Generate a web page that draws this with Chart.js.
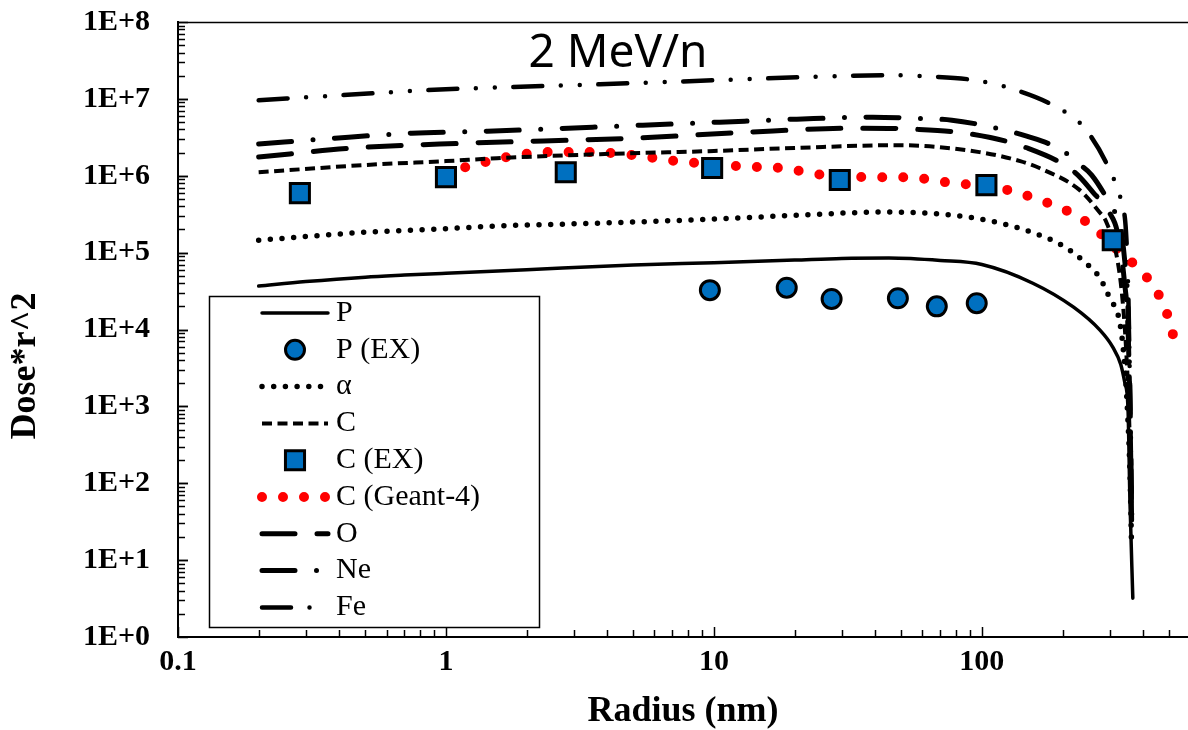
<!DOCTYPE html>
<html>
<head>
<meta charset="utf-8">
<title>2 MeV/n</title>
<script src="https://cdn.jsdelivr.net/npm/chart.js@4.4.1/dist/chart.umd.min.js"></script>
<style>
  body { margin: 0; background: #fff; }
  #wrap { width: 1188px; height: 730px; }
</style>
</head>
<body>
<div id="wrap"><canvas id="doseChart" width="1188" height="730"></canvas></div>
<script>
// Values (radius in nm, dose*r^2)
const pRadius = [0.2, 0.3, 0.5, 0.7, 1, 2, 5, 10, 20, 30, 45, 70, 100, 155, 220, 276, 308, 330, 342, 351, 357, 366];
const pDose = [3.67e4, 4.2e4, 4.8e4, 5.1e4, 5.4e4, 6.0e4, 6.9e4, 7.4e4, 8.0e4, 8.4e4, 8.5e4, 7.9e4, 7.0e4, 4.0e4, 1.95e4, 9.8e3, 5.9e3, 3.5e3, 2.0e3, 980, 60, 3.2];

const pExRadius = [9.66, 18.7, 27.5, 48.6, 67.9, 95.7];
const pExDose = [3.25e4, 3.5e4, 2.5e4, 2.55e4, 2.0e4, 2.2e4];

const alphaRadius = [0.2, 0.5, 1, 1.5, 3.76, 10, 20, 43, 78, 117, 172, 207, 242, 276, 300, 327, 340, 350, 358, 362];
const alphaDose = [1.45e5, 1.84e5, 2.05e5, 2.21e5, 2.42e5, 2.73e5, 3.05e5, 3.37e5, 3.07e5, 2.42e5, 1.59e5, 1.15e5, 7.5e4, 4.66e4, 2.56e4, 1.25e4, 4.0e3, 800, 100, 15];

const cRadius = [0.2, 0.5, 1, 1.55, 3.76, 10, 20, 49, 98, 139, 164, 232, 276, 290, 319, 333, 345, 355, 362];
const cDose = [1.11e6, 1.38e6, 1.55e6, 1.69e6, 1.91e6, 2.1e6, 2.3e6, 2.5e6, 2.03e6, 1.55e6, 1.26e6, 6.5e5, 3.3e5, 2.6e5, 8.8e4, 3.0e4, 6.0e3, 600, 30];

const cExRadius = [0.285, 1.0, 2.8, 9.85, 29.5, 104, 308];
const cExDose = [5.94e5, 9.6e5, 1.11e6, 1.26e6, 8.8e5, 7.55e5, 1.45e5];

const g4Radius = [1.18, 1.69, 2.42, 3.51, 5.03, 7.28, 12.5, 18.1, 25.9, 37.6, 53.9, 78, 112, 160, 224, 260, 336, 392, 438, 478, 507, 530];
const g4Dose = [1.29e6, 1.75e6, 2.03e6, 2.03e6, 1.85e6, 1.55e6, 1.33e6, 1.25e6, 1.02e6, 9.6e5, 9.5e5, 8.0e5, 7.1e5, 5.0e5, 3.07e5, 2.15e5, 9.3e4, 5.9e4, 3.56e4, 2.07e4, 1.11e4, 5.9e3];

const oRadius = [0.2, 0.446, 1.18, 4.99, 13.3, 34.4, 56.2, 91.8, 145, 222, 260, 300, 320, 340, 352, 358, 363];
const oDose = [1.75e6, 2.29e6, 2.65e6, 3.08e6, 3.69e6, 4.16e6, 4.03e6, 3.47e6, 2.35e6, 1.11e6, 6.1e5, 3.27e5, 1.9e5, 4.4e4, 8.0e3, 500, 20];

const neRadius = [0.2, 0.385, 0.746, 1.43, 5.43, 10.5, 20.4, 39.2, 54.8, 77.3, 105, 147, 199, 226, 257, 305, 327, 340, 352, 358, 363];
const neDose = [2.58e6, 3.08e6, 3.58e6, 3.8e6, 4.55e6, 4.98e6, 5.45e6, 5.78e6, 5.6e6, 5.28e6, 4.41e6, 3.27e6, 2.15e6, 1.5e6, 1.02e6, 3.9e5, 2.34e5, 9.0e4, 1.5e4, 800, 30];

const feRadius = [0.2, 0.413, 0.857, 3.76, 10.3, 21.9, 45.4, 61.3, 94.2, 127, 190, 240, 300, 333, 345, 352, 358, 363];
const feDose = [9.6e6, 1.12e7, 1.30e7, 1.55e7, 1.75e7, 1.92e7, 2.03e7, 1.97e7, 1.75e7, 1.38e7, 7.8e6, 4.3e6, 1.18e6, 4.3e5, 1.9e5, 3.0e4, 1.0e3, 40];

const seriesNames = ['P', 'P (EX)', 'α', 'C', 'C (EX)', 'C (Geant-4)', 'O', 'Ne', 'Fe'];
const xTickValues = [0.1, 1, 10, 100];
const xTickLabels = ['0.1', '1', '10', '100'];
const yTickValues = [1, 1e1, 1e2, 1e3, 1e4, 1e5, 1e6, 1e7, 1e8];
const yTickLabels = ['1E+0', '1E+1', '1E+2', '1E+3', '1E+4', '1E+5', '1E+6', '1E+7', '1E+8'];

const BLUE = '#0070C0';
const RED = '#FF0000';
const serif = '"Liberation Serif", "Times New Roman", serif';

function pts(xs, ys) {
  return xs.map((x, i) => ({ x: x, y: ys[i] }));
}

function lineSet(label, xs, ys, color, width, dash, cap) {
  return {
    label: label,
    data: pts(xs, ys),
    showLine: true,
    borderColor: color,
    backgroundColor: color,
    borderWidth: width,
    borderDash: dash,
    borderCapStyle: cap,
    borderJoinStyle: 'round',
    cubicInterpolationMode: 'monotone',
    pointRadius: 0,
    pointHoverRadius: 0,
    order: 1
  };
}

function markerSet(label, xs, ys, style, radius) {
  return {
    label: label,
    data: pts(xs, ys),
    showLine: false,
    pointStyle: style,
    pointRadius: radius,
    pointBackgroundColor: BLUE,
    pointBorderColor: '#000',
    pointBorderWidth: 3,
    order: 0
  };
}

const datasets = [
  lineSet(seriesNames[0], pRadius, pDose, '#000', 3.5, [], 'round'),
  markerSet(seriesNames[1], pExRadius, pExDose, 'circle', 9.5),
  lineSet(seriesNames[2], alphaRadius, alphaDose, '#000', 5.5, [0, 11.7], 'round'),
  lineSet(seriesNames[3], cRadius, cDose, '#000', 4, [10, 5.5], 'butt'),
  markerSet(seriesNames[4], cExRadius, cExDose, 'rect', 13.5),
  lineSet(seriesNames[5], g4Radius, g4Dose, RED, 10, [0, 21], 'round'),
  lineSet(seriesNames[6], oRadius, oDose, '#000', 5, [33, 22], 'round'),
  lineSet(seriesNames[7], neRadius, neDose, '#000', 5, [33, 21.5, 0, 21.5], 'round'),
  lineSet(seriesNames[8], feRadius, feDose, '#000', 4.5, [29, 18.5, 0, 19, 0, 18.5], 'round')
];

// keep the plot box fixed: no extra room for edge labels
function fixBox(scale) {
  scale.paddingTop = 0;
  scale.paddingBottom = 0;
  scale.paddingLeft = 0;
  scale.paddingRight = 0;
}

// Inside tick marks, top border, titles and the legend box
const axisExtras = {
  id: 'axisExtras',
  beforeDatasetsDraw(chart) {
    const { ctx, chartArea: a, scales: { x, y } } = chart;
    ctx.save();
    ctx.strokeStyle = '#000';
    ctx.lineWidth = 1.5;
    ctx.beginPath();
    ctx.moveTo(a.left, a.top + 0.5);
    ctx.lineTo(a.right, a.top + 0.5);
    ctx.stroke();

    for (let e = 0; e < 8; e++) {
      for (let m = 1; m <= 10; m++) {
        const v = m * Math.pow(10, e);
        const py = Math.round(y.getPixelForValue(v)) + 0.5;
        const len = (m === 1 || m === 10) ? 10 : 7;
        ctx.beginPath();
        ctx.moveTo(a.left, py);
        ctx.lineTo(a.left + len, py);
        ctx.stroke();
      }
    }
    for (let e = -1; e < 3; e++) {
      for (let m = 1; m <= 9; m++) {
        const v = m * Math.pow(10, e);
        if (v > x.max) break;
        const px = Math.round(x.getPixelForValue(v)) + 0.5;
        const len = m === 1 ? 10 : 7;
        ctx.beginPath();
        ctx.moveTo(px, a.bottom);
        ctx.lineTo(px, a.bottom - len);
        ctx.stroke();
      }
    }

    ctx.fillStyle = '#000';
    ctx.font = '46px "Noto Sans", "Open Sans", sans-serif';
    ctx.textAlign = 'center';
    ctx.textBaseline = 'alphabetic';
    ctx.fillText('2 MeV/n', 618, 67);

    ctx.font = 'bold 36px ' + serif;
    ctx.textBaseline = 'middle';
    ctx.fillText('Radius (nm)', (a.left + a.right) / 2, 712);

    ctx.translate(26, 366);
    ctx.rotate(-Math.PI / 2);
    ctx.fillText('Dose*r^2', 0, 0);
    ctx.restore();
  },
  afterDatasetsDraw(chart) {
    const { ctx } = chart;
    const box = { left: 209, top: 296, right: 539, bottom: 627 };
    ctx.save();
    ctx.fillStyle = '#fff';
    ctx.fillRect(box.left, box.top, box.right - box.left, box.bottom - box.top);
    ctx.strokeStyle = '#000';
    ctx.lineWidth = 1.5;
    ctx.strokeRect(box.left + 0.5, box.top + 0.5, box.right - box.left, box.bottom - box.top);

    chart.data.datasets.forEach((ds, i) => {
      const ry = 313 + i * 36.8;
      if (ds.showLine) {
        ctx.save();
        ctx.strokeStyle = ds.borderColor;
        ctx.lineWidth = ds.borderWidth;
        ctx.lineCap = ds.borderCapStyle;
        ctx.setLineDash(ds.borderDash);
        ctx.beginPath();
        ctx.moveTo(262, ry);
        ctx.lineTo(328, ry);
        ctx.stroke();
        ctx.restore();
      } else {
        ctx.save();
        ctx.fillStyle = BLUE;
        ctx.strokeStyle = '#000';
        ctx.lineWidth = 3;
        ctx.beginPath();
        if (ds.pointStyle === 'circle') {
          ctx.arc(295, ry, ds.pointRadius, 0, Math.PI * 2);
        } else {
          const s = ds.pointRadius * Math.SQRT1_2;
          ctx.rect(295 - s, ry - s, 2 * s, 2 * s);
        }
        ctx.fill();
        ctx.stroke();
        ctx.restore();
      }
      ctx.fillStyle = '#000';
      ctx.font = '30px ' + serif;
      ctx.textAlign = 'left';
      ctx.textBaseline = 'middle';
      ctx.fillText(ds.label, 336, ry);
    });
    ctx.restore();
  }
};

new Chart(document.getElementById('doseChart'), {
  type: 'scatter',
  data: { datasets: datasets },
  options: {
    responsive: false,
    animation: false,
    events: [],
    layout: { autoPadding: false, padding: { top: 22, right: 0, left: 0, bottom: 0 } },
    plugins: {
      legend: { display: false },
      tooltip: { enabled: false }
    },
    scales: {
      x: {
        type: 'logarithmic',
        min: 0.1,
        max: 588,
        afterFit: (scale) => { scale.height = 93; fixBox(scale); },
        afterBuildTicks: (scale) => { scale.ticks = xTickValues.map(v => ({ value: v })); },
        grid: { display: false, drawTicks: false },
        border: { display: true, color: '#000', width: 2 },
        ticks: {
          autoSkip: false,
          maxRotation: 0,
          padding: 7,
          color: '#000',
          font: { family: serif, size: 30, weight: 'bold' },
          callback: (v) => xTickLabels[xTickValues.indexOf(v)]
        }
      },
      y: {
        type: 'logarithmic',
        min: 1,
        max: 1e8,
        afterFit: (scale) => { scale.width = 178; fixBox(scale); },
        afterBuildTicks: (scale) => { scale.ticks = yTickValues.map(v => ({ value: v })); },
        grid: { display: false, drawTicks: false },
        border: { display: true, color: '#000', width: 2 },
        ticks: {
          autoSkip: false,
          padding: 28,
          color: '#000',
          font: { family: serif, size: 30, weight: 'bold' },
          callback: (v) => yTickLabels[yTickValues.indexOf(v)]
        }
      }
    }
  },
  plugins: [axisExtras]
});
</script>
</body>
</html>
